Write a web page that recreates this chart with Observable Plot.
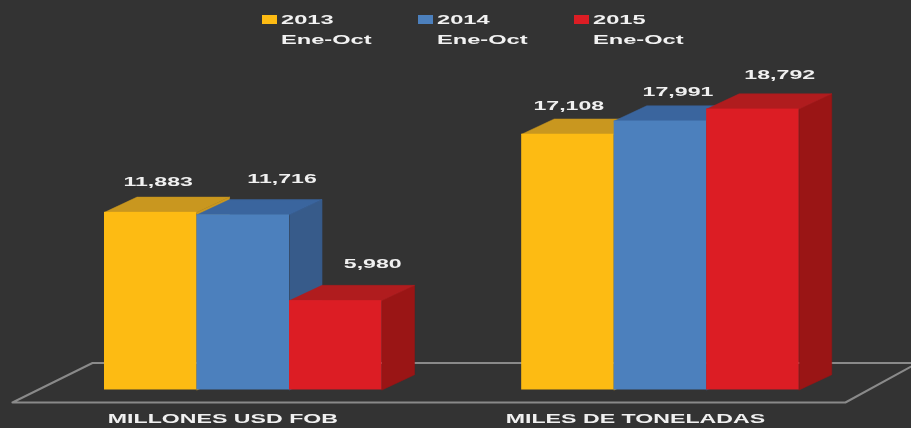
<!DOCTYPE html>
<html>
<head>
<meta charset="utf-8">
<script src="https://cdn.jsdelivr.net/npm/d3@7"></script>
<script src="https://cdn.jsdelivr.net/npm/@observablehq/plot@0.6"></script>
<style>
html,body{margin:0;padding:0;background:#333333;overflow:hidden}
#legend{position:relative;height:50px;width:911px;font:bold 12px "Liberation Sans",Arial,sans-serif;color:#f2f2f2}
#legend i{position:absolute;display:block;top:15px;width:15px;height:9px}
#legend span{position:absolute;display:block;white-space:nowrap;transform:scaleX(1.97);transform-origin:0 50%;line-height:14px}
svg{display:block}
#legend,#chart{filter:blur(0.5px)}
</style>
</head>
<body>
<div id="legend"></div>
<div id="chart"></div>
<script>
const years = ["2013", "2014", "2015"];
const period = "Ene-Oct";
const categories = ["MILLONES USD FOB", "MILES DE TONELADAS"];
const millonesUsdFob = [11883, 11716, 5980];
const milesDeToneladas = [17108, 17991, 18792];
const seriesValues = [millonesUsdFob, milesDeToneladas];

// colours: front, top, side per year
const frontColors = ["#fdbb13", "#4c80bd", "#dc1d24"];
const topColors = ["#c9971f", "#3a659e", "#b01c1e"];
const sideColors = ["#c9971f", "#375b8a", "#9a1515"];

// layout, in scale units (a bar is one x unit wide)
const groupStart = [0, 4.51];
const depthX = 0.352, depthY = 1020;
const floorX = [-0.995, 8.01, 8.79, -0.13];
const floorY = [-836, -836, 1806, 1806];
const labelNudge = [[0.08, -30], [0.42, -36], [0.40, -36], [0.01, -28], [0.19, -28.5], [0.29, -33.5]];
const categoryX = [1.28, 5.74];
const categoryY = -1960;
const legendX = [262, 418, 574];
const legendTextX = [281, 437, 593];

const pxPerUnitX = 92.5, pxPerValue = 0.01495, chartH = 378;
const x0 = 104, base = 339.5;
const xDomain = [-x0 / pxPerUnitX, (911 - x0) / pxPerUnitX];
const yDomain = [-(chartH - base) / pxPerValue, base / pxPerValue];

const bars = seriesValues.flatMap((vals, g) => vals.map((v, i) => ({
  g, i, v, x1: groupStart[g] + i, x2: groupStart[g] + i + 1
})));

const face = (pts, fill) => Plot.line(pts, {x: "x", y: "y", fill, stroke: fill, strokeWidth: 0.5, curve: "linear-closed"});

const marks = [];
marks.push(Plot.line([...floorX.keys(), 0].map(k => ({x: floorX[k], y: floorY[k]})),
  {x: "x", y: "y", stroke: "#8a8a8a", strokeWidth: 2}));

for (const b of bars) {
  marks.push(face([
    {x: b.x2, y: 0}, {x: b.x2 + depthX, y: depthY},
    {x: b.x2 + depthX, y: b.v + depthY}, {x: b.x2, y: b.v}
  ], sideColors[b.i]));
  marks.push(face([
    {x: b.x1, y: b.v}, {x: b.x1 + depthX, y: b.v + depthY},
    {x: b.x2 + depthX, y: b.v + depthY}, {x: b.x2, y: b.v}
  ], topColors[b.i]));
  marks.push(Plot.rectY([b], {x1: "x1", x2: "x2", y1: 0, y2: "v", fill: frontColors[b.i]}));
}

bars.forEach((b, k) => {
  const [nx, ny] = labelNudge[k];
  marks.push(Plot.text([b], {
    x: d => (d.x1 + d.x2) / 2 + nx, y: "v", dy: ny,
    text: d => d3.format(",")(d.v), fill: "#f0f0f0", fontSize: 12, fontWeight: "bold",
    fontFamily: "Liberation Sans, Arial, sans-serif", className: "stretched"
  }));
});

categories.forEach((c, g) => {
  marks.push(Plot.text([c], {
    x: () => categoryX[g], y: () => categoryY, text: d => d,
    fill: "#f0f0f0", fontSize: 12, fontWeight: "bold",
    fontFamily: "Liberation Sans, Arial, sans-serif", className: "stretched"
  }));
});

const plot = Plot.plot({
  width: 911, height: chartH,
  marginTop: 0, marginRight: 0, marginBottom: 0, marginLeft: 0,
  style: {background: "#333333"},
  x: {type: "linear", domain: xDomain, range: [0, 911], axis: null},
  y: {type: "linear", domain: yDomain, range: [chartH, 0], axis: null},
  marks
});

plot.querySelectorAll(".stretched text, text.stretched").forEach(t => {
  const tr = t.getAttribute("transform") || "";
  t.setAttribute("transform", tr + " scale(1.93,1)");
});
document.getElementById("chart").append(plot);

const legend = document.getElementById("legend");
years.forEach((y, k) => {
  const sw = document.createElement("i");
  sw.style.left = legendX[k] + "px";
  sw.style.background = frontColors[k];
  legend.append(sw);
  [[y, 13], [period, 33]].forEach(([txt, top]) => {
    const s = document.createElement("span");
    s.textContent = txt;
    s.style.left = legendTextX[k] + "px";
    s.style.top = top + "px";
    legend.append(s);
  });
});
</script>
</body>
</html>
